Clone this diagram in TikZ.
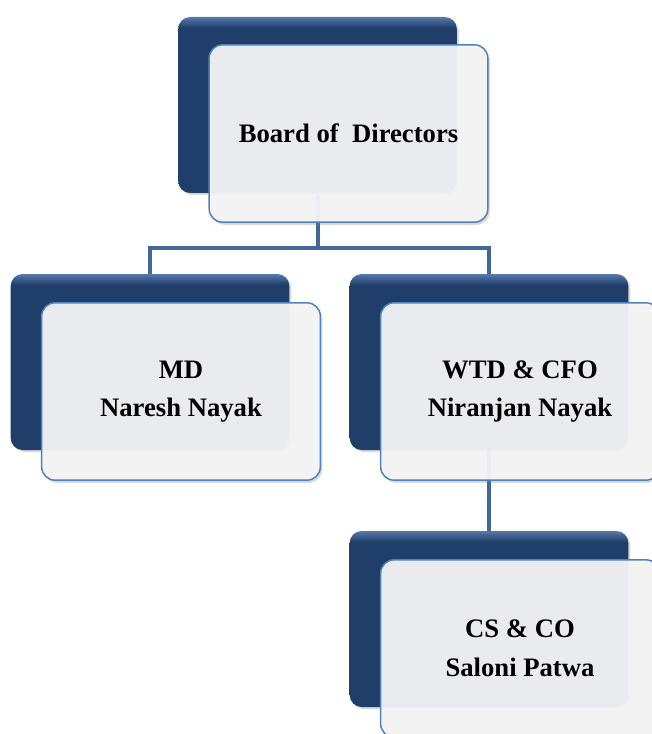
\documentclass[tikz,border=0pt]{standalone}
\usepackage{fontspec}
\setmainfont{Liberation Serif}
\usepackage{tikz}
\usetikzlibrary{shadows}
\definecolor{boxdark}{RGB}{31,62,106}
\definecolor{boxtop}{RGB}{88,122,170}
\definecolor{boxlight}{RGB}{245,245,246}
\definecolor{boxedge}{RGB}{79,129,189}
\definecolor{linkblue}{RGB}{65,103,155}
\pgfdeclareverticalshading{darkshade}{100bp}{color(0bp)=(boxdark); color(25bp)=(boxdark); color(72bp)=(boxdark); color(75bp)=(boxtop); color(100bp)=(boxtop)}

\begin{document}
\begin{tikzpicture}[x=0.75pt, y=-0.75pt,
        back/.style={rectangle, rounded corners=9pt, shading=darkshade, minimum width=209pt, minimum height=132pt,
            drop shadow={opacity=0.3, shadow xshift=1.5pt, shadow yshift=-1.5pt}},
        front/.style={rectangle, rounded corners=10pt, fill=boxlight, fill opacity=0.94, text opacity=1,
            draw=boxedge, line width=1.1pt, minimum width=209pt, minimum height=133pt, align=center,
            font=\bfseries\fontsize{20}{29}\selectfont,
            drop shadow={opacity=0.3, shadow xshift=1.5pt, shadow yshift=-2pt}},
        link/.style={draw=linkblue, line width=3pt}]
        \useasboundingbox (0,0) rectangle (652,734);
        \clip (0,0) rectangle (652,734);
        % dark boxes behind
        \node[back] (bod) at (317.5,105) {};
        \node[back] (md) at (150,362) {};
        \node[back] (wtd) at (489,362) {};
        \node[back] (cs) at (489,619) {};
        % connectors
        \coordinate (split) at (317.5,248);
        \draw[link] (bod.south) -- (split);
        \draw[link] (md.north) |- (split) -| (wtd.north);
        \draw[link] (wtd.south) -- (cs.north);
        % light boxes in front
        \node[front] (bodf) at (348.5,133.5) {Board of~~Directors};
        \node[front] (mdf) at (181,391.5) {MD\\Naresh Nayak};
        \node[front] (wtdf) at (520,391.5) {WTD \& CFO\\Niranjan Nayak};
        \node[front] (csf) at (520,648.5) {CS \& CO\\Saloni Patwa};
    \end{tikzpicture}
\end{document}
